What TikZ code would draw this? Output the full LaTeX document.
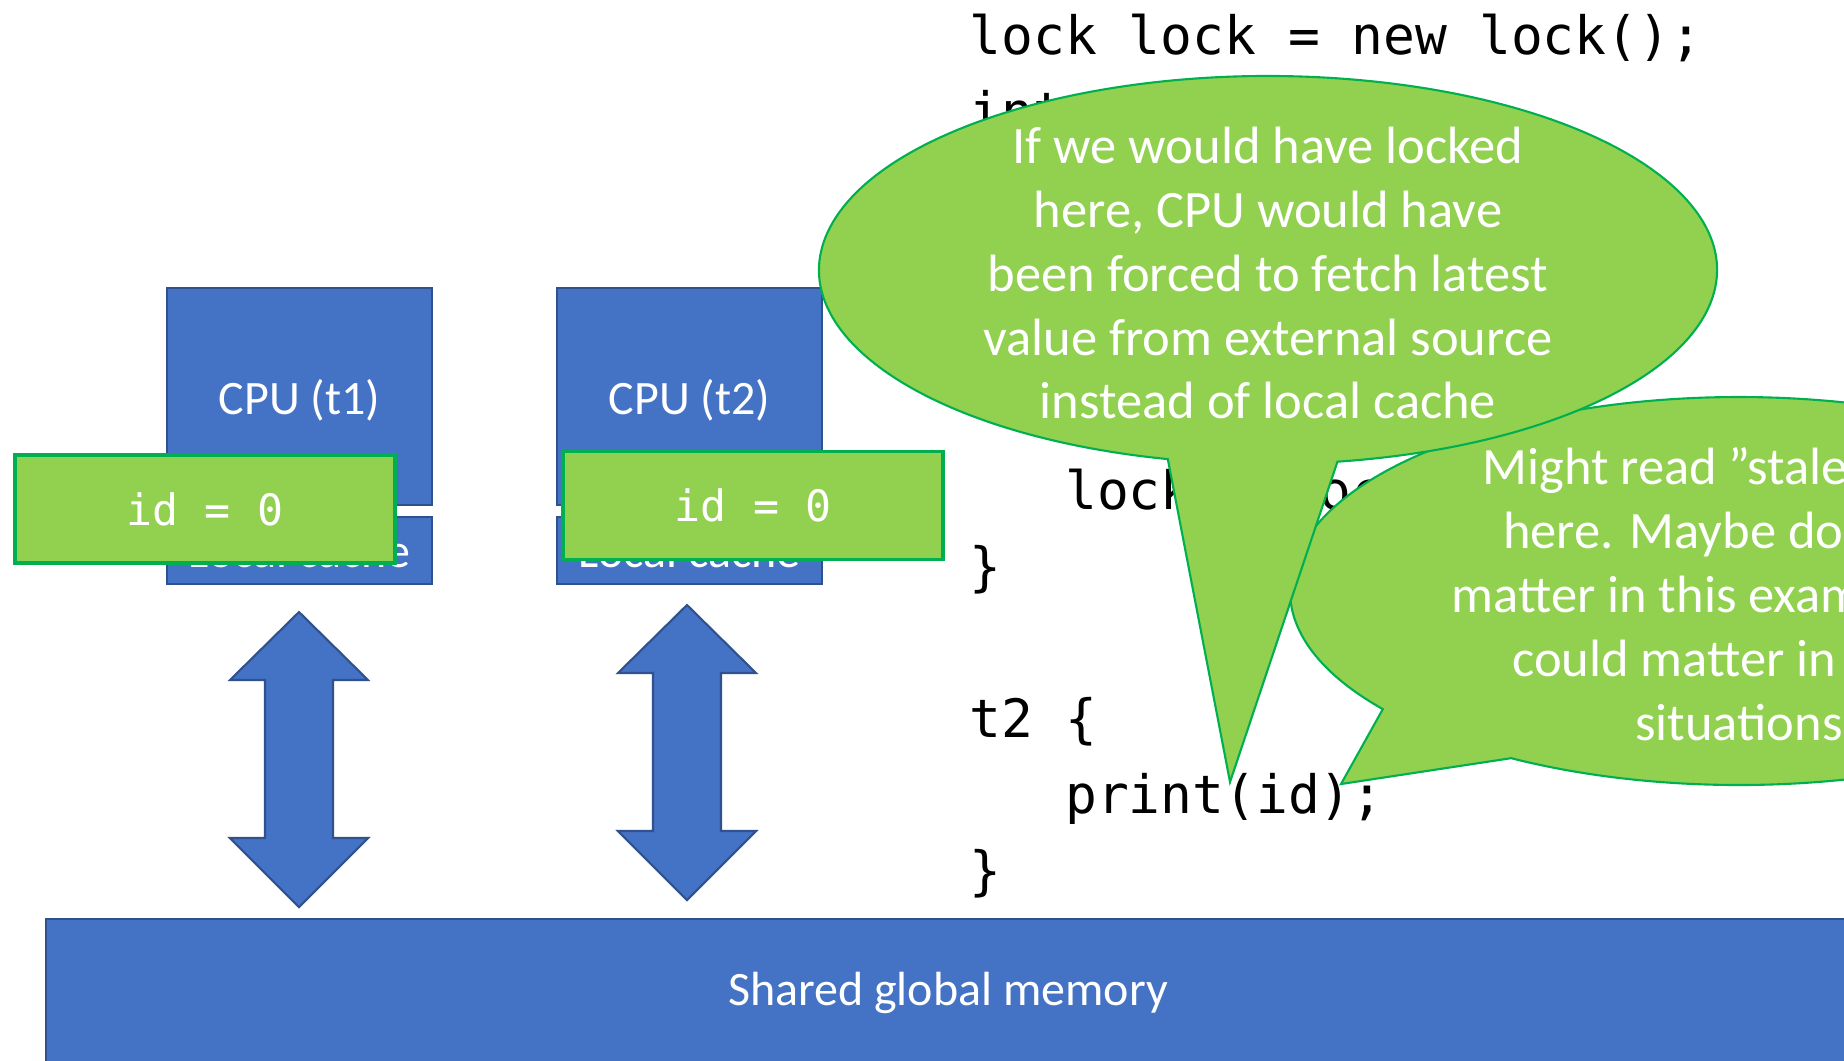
\documentclass[tikz,border=0pt]{standalone}
\usepackage{fontspec}
\setmainfont{Carlito}
\newfontfamily\codefont{DejaVu Sans Mono}
\usetikzlibrary{positioning}

\definecolor{boxblue}{HTML}{4472C4}
\definecolor{boxline}{HTML}{2F528F}
\definecolor{notegreen}{HTML}{92D050}
\definecolor{noteline}{HTML}{00B050}

\tikzset{
    unitbox/.style={draw=boxline, line width=0.8pt, fill=boxblue, text=white,
        inner sep=0pt, outer sep=0pt, font=\fontsize{13.66}{16}\selectfont},
    valuebox/.style={draw=noteline, line width=1pt, fill=notegreen, text=white,
        inner sep=0pt, outer sep=0pt, minimum width=38mm, minimum height=10.8mm,
        font=\codefont\fontsize{12.3}{14}\selectfont},
    codetext/.style={align=left, inner sep=0pt,
        font=\codefont\fontsize{15.05}{21.6}\selectfont},
    bubble/.style={draw=noteline, line width=0.6pt, fill=notegreen},
    bubbletext/.style={text=white, align=center, inner sep=0pt,
        font=\fontsize{14.94}{18.2}\selectfont},
    arrowfill/.style={draw=boxline, line width=0.6pt, fill=boxblue}
}

% up/down block arrow, #1 = top tip
\newcommand{\memarrow}[1]{
    \draw[arrowfill] (#1) -- ++(69,68) -- ++(-35,0) -- ++(0,158) -- ++(35,0)
        -- ++(-69,69) -- ++(-69,-69) -- ++(35,0) -- ++(0,-158) -- ++(-35,0) -- cycle;
}

\begin{document}
\begin{tikzpicture}[x=0.1mm, y=-0.1mm]

    \clip (0,0) rectangle (1844,1060);
    \fill[white] (0,0) rectangle (1844,1060);

    % cpus with their caches
    \node[unitbox, text depth=0pt, minimum width=26.5mm, minimum height=21.7mm] (cpu1) at (299.5,396.5) {CPU (t1)};
    \node[unitbox, minimum width=26.5mm, minimum height=6.7mm, below=1.2mm of cpu1] (cache1) {Local cache};
    \node[unitbox, text depth=0pt, minimum width=26.5mm, minimum height=21.7mm] (cpu2) at (689.5,396.5) {CPU (t2)};
    \node[unitbox, minimum width=26.5mm, minimum height=6.7mm, below=1.2mm of cpu2] (cache2) {Local cache};

    \node[valuebox] (val1) at (205,509) {id = 0};
    \node[valuebox] (val2) at (753,505.5) {id = 0};

    % memory and transfer arrows
    \node[unitbox, minimum width=180.4mm, minimum height=14.8mm] (memory) at (948,993) {Shared global memory};
    \coordinate (arr1) at (299,612);
    \coordinate (arr2) at (687,605);
    \memarrow{arr1}
    \memarrow{arr2}

    % program
    \node[codetext, anchor=north west] (code) at (969,13) {lock lock = new lock();\\
        int id = 0;\\
        \mbox{}\\
        t1 \{\\
        \phantom{xxx}lock.lock();\\
        \phantom{xxx}id = 1;\\
        \phantom{xxx}lock.unlock();\\
        \}\\
        \mbox{}\\
        t2 \{\\
        \phantom{xxx}print(id);\\
        \}};

    % callouts
    \coordinate (c2) at (1739,591);
    \coordinate (tip2) at (1341,784);
    \draw[bubble] (c2) ++(142.5:449 and 194)
        arc[start angle=142.5, end angle=480.5, x radius=449, y radius=194]
        -- (tip2) -- cycle;
    \node[bubbletext] (note2) at (1739,594) {Might read ”stale” value\\
        here. Maybe does not\\
        matter in this example, but\\
        could matter in other\\
        situations};

    \coordinate (c1) at (1268,270);
    \coordinate (tip1) at (1230,782);
    \draw[bubble] (c1) ++(102.9:449 and 194)
        arc[start angle=102.9, end angle=441.1, x radius=449, y radius=194]
        -- (tip1) -- cycle;
    \node[bubbletext] (note1) at (1268,273) {If we would have locked\\
        here, CPU would have\\
        been forced to fetch latest\\
        value from external source\\
        instead of local cache};

\end{tikzpicture}
\end{document}
